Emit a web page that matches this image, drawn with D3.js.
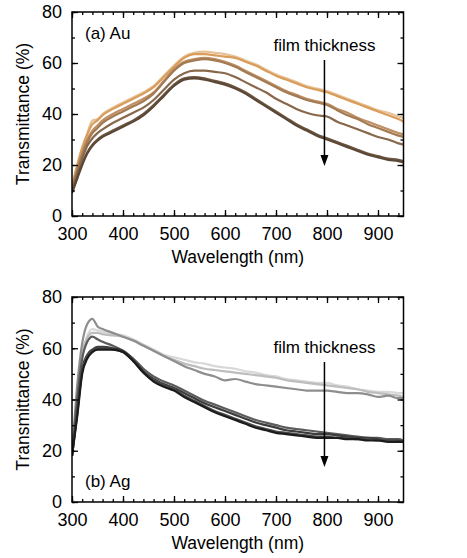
<!DOCTYPE html>
<html>
<head>
<meta charset="utf-8">
<script src="https://cdn.jsdelivr.net/npm/d3@7"></script>
<style>
body { margin: 0; background: #fff; }
svg { display: block; font-family: "Liberation Sans", Arial, sans-serif; }
</style>
</head>
<body>
<div id="chart"></div>
<script>
var width = 467;
var height = 558;

var wavelengths = [300, 310, 320, 330, 340, 350, 360, 380, 400, 420, 440, 460, 480, 500, 520, 540, 560, 580, 600, 620, 640, 660, 680, 700, 720, 740, 760, 780, 800, 820, 840, 860, 880, 900, 920, 940, 950];

var xTicks = [300, 400, 500, 600, 700, 800, 900];
var yTicks = [0, 20, 40, 60, 80];

// Au, thin -> thick
var au1 = [12, 20, 27, 32.5, 37.5, 38, 40, 42.5, 44.5, 46.5, 48.5, 51, 55, 59, 62.5, 64, 64.5, 64, 63.5, 62.5, 61, 59.5, 57.5, 55.5, 54, 52.5, 51, 50, 49, 47.5, 46, 44.5, 43, 41.5, 40.5, 39, 38.5];
var au2 = [11.5, 19.5, 26.5, 32, 36, 37.5, 39.5, 42, 44, 46, 48, 50.5, 54.5, 58.5, 62, 63.5, 63.5, 63, 62.5, 62, 60.5, 59, 57, 55, 53.5, 52, 50.5, 49.5, 48.5, 47, 45.5, 44, 42.5, 41, 39.5, 38, 37];
var au3 = [11, 18.5, 25, 30, 33.5, 35.5, 37.5, 40, 42, 44, 46, 48.5, 53, 57.5, 60.5, 61.5, 62, 61.5, 60.5, 59, 57, 55, 53, 51, 49, 47.5, 46, 45, 44, 42, 40.5, 38.5, 37, 35.5, 34, 32.5, 32];
var au4 = [10.5, 17.5, 24, 29, 32.5, 34.5, 36.5, 39, 41, 43, 45, 48, 52.5, 57, 60, 61, 61.5, 61, 60, 58.5, 56.5, 54.5, 52.5, 50.5, 48.5, 47, 45.5, 44.5, 43.5, 41.5, 39.5, 38, 36, 34.5, 33, 31.5, 31];
var au5 = [10, 16.5, 22.5, 27.5, 30.5, 32.5, 34, 36.5, 38.5, 40.5, 42.5, 45.5, 49.5, 53.5, 56, 57, 57, 56.5, 56, 54.5, 52.5, 50.5, 48.5, 46, 44, 42, 40.5, 39.5, 39, 37, 35.5, 34, 32.5, 31, 30, 28.5, 28];
var au6 = [9.5, 15, 20.5, 25, 28, 30, 31.5, 33.5, 35.5, 37.5, 40, 43.5, 47.5, 51.5, 54, 54.5, 54, 53, 52, 50.5, 48.5, 46, 43.5, 41, 38.5, 36, 34, 32, 30.5, 29, 27.5, 26, 24.5, 23.5, 22.5, 22, 21.5];
var au7 = [9, 14.5, 20, 24.5, 27.5, 29.5, 31, 33, 35, 37, 39.5, 43, 47, 51, 53.5, 54, 53.5, 52.5, 51.5, 50, 48, 45.5, 43, 40.5, 38, 35.5, 33.5, 31.5, 30, 28.5, 27, 25.5, 24, 23, 22, 21.5, 21];
var auColors = ["#e6c297", "#d99c5a", "#c08f62", "#a27a53", "#88684a", "#6f5842", "#5b4837"];

// Ag, thin -> thick
var ag1 = [18, 38, 56, 65, 67.5, 67, 66.5, 65.5, 65, 63.5, 61.5, 59.5, 57.5, 56.5, 55.5, 54.5, 54, 53, 52.5, 52, 51, 50.5, 49.5, 49, 48, 47.5, 47, 46.5, 46.5, 45.5, 45, 44, 43.5, 43, 43, 42.5, 42.5];
var ag2 = [18, 40, 58, 64, 66, 66, 65.5, 65, 64.5, 63, 61, 59, 57, 55.5, 54, 53, 52, 51.5, 51, 50.5, 50, 49.5, 49, 48.5, 47.5, 47, 46.5, 46, 45.5, 45, 44.5, 44, 43, 42.5, 42, 41.5, 41];
var ag3 = [18, 45, 62, 69.5, 71.5, 68.5, 67.5, 66, 64.5, 63, 61, 59, 57, 55, 53, 51.5, 50, 49, 47.5, 48, 47, 46, 45.5, 45, 44.5, 44, 43.5, 43.5, 43.5, 43, 42.5, 42.5, 42, 41, 41.5, 40.5, 40.5];
var ag4 = [18, 40, 56, 62.5, 64.5, 63.5, 62.5, 61, 59, 56, 52, 49, 47, 45.5, 43.5, 41.5, 39.5, 38, 36.5, 35, 33.5, 32, 31, 30, 29, 28.5, 28, 27.5, 27, 26.5, 26, 25.5, 25, 25, 24.5, 24.5, 24];
var ag5 = [18, 35, 52, 57.5, 59.5, 60.5, 60.5, 60, 59, 55.5, 51, 48, 46, 44.5, 42.5, 40.5, 38.5, 37, 35.5, 34, 32.5, 31, 30, 29, 28, 27.5, 27, 26.5, 26.5, 26, 25.5, 25, 25, 24.5, 24, 24, 23.5];
var ag6 = [18, 34, 51, 57, 59, 60, 60, 59.5, 58.5, 55, 50.5, 47.5, 45.5, 44, 41.5, 39.5, 37.5, 35.5, 34, 32.5, 31, 29.5, 28.5, 27.5, 27, 26.5, 26, 25.5, 25.5, 25, 25, 24.5, 24.5, 24, 24, 23.5, 23.5];
var ag7 = [18, 33, 50, 56, 58.5, 59.5, 59.5, 59.5, 58.5, 55, 50.5, 47, 45, 43.5, 41, 39, 37, 35, 33.5, 32, 30.5, 29, 28, 27, 26.5, 26, 25.5, 25, 25, 25, 24.5, 24.5, 24, 24, 23.5, 23.5, 23.5];
var agColors = ["#d8d8d8", "#bdbdbd", "#8e8e8e", "#5c5c5c", "#3c3c3c", "#4a4a4a", "#1c1c1c"];

var svg = d3.select("#chart").append("svg")
	.attr("width", width)
	.attr("height", height);

function draw_panel(top, bottom, series, colors, label, labelY, noteY, arrowTop, arrowBottom) {
	var x = d3.scaleLinear().domain([300, 950]).range([72, 403.5]);
	var y = d3.scaleLinear().domain([0, 80]).range([bottom, top]);

	var g = svg.append("g");

	var line = d3.line()
		.x(function(d, i) { return x(wavelengths[i]); })
		.y(function(d) { return y(d); })
		.curve(d3.curveMonotoneX);

	g.append("defs").append("clipPath")
		.attr("id", "clip" + top)
		.append("rect")
		.attr("x", 72).attr("y", top)
		.attr("width", 403.5 - 72).attr("height", bottom - top);

	g.append("g")
		.attr("clip-path", "url(#clip" + top + ")")
		.selectAll("path")
		.data(series)
		.enter()
		.append("path")
		.attr("d", line)
		.attr("fill", "none")
		.attr("stroke", function(d, i) { return colors[i]; })
		.attr("stroke-width", 2.2)
		.attr("stroke-linejoin", "round");

	var minorX = d3.range(300, 950, 20);
	var minorY = d3.range(0, 81, 10);

	var bottomAxis = d3.axisBottom(x).tickValues(minorX).tickSize(-3).tickFormat("");
	var topAxis = d3.axisTop(x).tickValues(minorX).tickSize(-3).tickFormat("");
	var leftAxis = d3.axisLeft(y).tickValues(minorY).tickSize(-3).tickFormat("");
	var rightAxis = d3.axisRight(y).tickValues(minorY).tickSize(-3).tickFormat("");

	g.append("g").attr("transform", "translate(0," + bottom + ")").call(bottomAxis);
	g.append("g").attr("transform", "translate(0," + top + ")").call(topAxis);
	g.append("g").attr("transform", "translate(72,0)").call(leftAxis);
	g.append("g").attr("transform", "translate(403.5,0)").call(rightAxis);

	g.append("g").attr("transform", "translate(0," + bottom + ")")
		.call(d3.axisBottom(x).tickValues(xTicks).tickSize(-6).tickPadding(11).tickFormat(d3.format("d")));
	g.append("g").attr("transform", "translate(0," + top + ")")
		.call(d3.axisTop(x).tickValues(xTicks).tickSize(-6).tickFormat(""));
	g.append("g").attr("transform", "translate(72,0)")
		.call(d3.axisLeft(y).tickValues(yTicks).tickSize(-6).tickPadding(10).tickFormat(d3.format("d")));
	g.append("g").attr("transform", "translate(403.5,0)")
		.call(d3.axisRight(y).tickValues(yTicks).tickSize(-6).tickFormat(""));

	g.selectAll(".domain").remove();
	g.selectAll(".tick line").attr("stroke", "#000").attr("stroke-width", 1.3);
	g.selectAll(".tick text")
		.attr("fill", "#000")
		.style("font-size", "18px")
		.style("font-family", "'Liberation Sans', Arial, sans-serif");

	g.append("rect")
		.attr("x", 72).attr("y", top)
		.attr("width", 403.5 - 72).attr("height", bottom - top)
		.attr("fill", "none")
		.attr("stroke", "#000")
		.attr("stroke-width", 1.5);

	g.append("text")
		.attr("x", x(625))
		.attr("y", bottom + 47)
		.attr("text-anchor", "middle")
		.style("font-size", "17.5px")
		.text("Wavelength (nm)");

	g.append("text")
		.attr("transform", "translate(29," + ((top + bottom) / 2) + ") rotate(-90)")
		.attr("text-anchor", "middle")
		.style("font-size", "17.5px")
		.text("Transmittance (%)");

	g.append("text")
		.attr("x", 85)
		.attr("y", labelY)
		.style("font-size", "17px")
		.text(label);

	g.append("text")
		.attr("x", x(795))
		.attr("y", noteY)
		.attr("text-anchor", "middle")
		.style("font-size", "17px")
		.text("film thickness");

	var ax = x(795);
	g.append("line")
		.attr("x1", ax).attr("x2", ax)
		.attr("y1", arrowTop).attr("y2", arrowBottom - 9)
		.attr("stroke", "#000")
		.attr("stroke-width", 1.5);
	g.append("path")
		.attr("d", "M" + (ax - 4) + "," + (arrowBottom - 11) + "L" + (ax + 4) + "," + (arrowBottom - 11) + "L" + ax + "," + arrowBottom + "Z")
		.attr("fill", "#000");
}

draw_panel(12, 216, [au1, au2, au3, au4, au5, au6, au7], auColors, "(a) Au", 39, 51, 60, 166);
draw_panel(297, 502, [ag1, ag2, ag3, ag4, ag5, ag6, ag7], agColors, "(b) Ag", 487, 353, 362, 467);
</script>
</body>
</html>
